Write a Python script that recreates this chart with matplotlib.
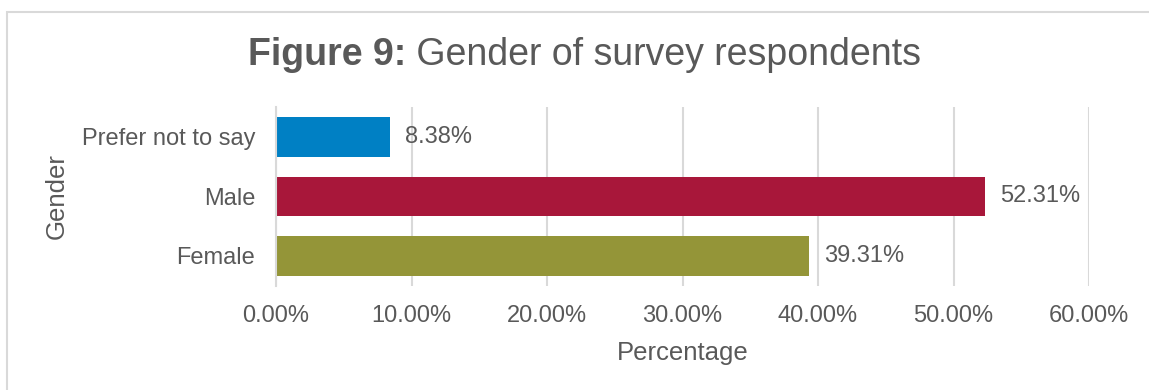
import matplotlib
matplotlib.use("Agg")
import matplotlib.pyplot as plt
from matplotlib.patches import Rectangle
from matplotlib.ticker import FuncFormatter, MultipleLocator

plt.rcParams["font.family"] = ["Liberation Sans", "DejaVu Sans"]

categories = ["Female", "Male", "Prefer not to say"]
values = [39.31, 52.31, 8.38]
bar_colors = ["#949538", "#A8173A", "#0080C4"]

TEXT = "#595959"
GRID = "#D9D9D9"

fig = plt.figure(figsize=(11.49, 3.90), dpi=100)
fig.patch.set_facecolor("white")

# outer frame of the chart area
fig.add_artist(Rectangle((7 / 1149, -0.1), 1.2, 1 - 11.5 / 390 + 0.1,
                         transform=fig.transFigure, fill=False,
                         edgecolor=GRID, linewidth=1.5))

ax = fig.add_axes([276 / 1149, 1 - 285.75 / 390, (1089 - 276) / 1149, (285.75 - 107.25) / 390])

y = list(range(len(categories)))
bars = ax.barh(y, values, height=0.67, color=bar_colors, zorder=3)

ax.set_xlim(0, 60)
ax.set_ylim(-0.5, len(categories) - 0.5)
ax.xaxis.set_major_locator(MultipleLocator(10))
ax.xaxis.set_major_formatter(FuncFormatter(lambda v, p: f"{v:.2f}%"))
ax.set_yticks(y)
ax.set_yticklabels(categories)

ax.grid(axis="x", color=GRID, linewidth=1.5, zorder=0)
ax.grid(axis="y", visible=False)
for side in ["top", "right", "bottom"]:
    ax.spines[side].set_visible(False)
ax.spines["left"].set_color(GRID)
ax.spines["left"].set_linewidth(1.5)
ax.spines["left"].set_zorder(4)

ax.tick_params(axis="x", length=0, pad=14, labelsize=17, labelcolor=TEXT)
ax.tick_params(axis="y", length=0, pad=15, labelsize=17, labelcolor=TEXT)

for b, v in zip(bars, values):
    ax.annotate(f"{v:.2f}%", xy=(v, b.get_y() + b.get_height() / 2),
                xytext=(11, 0), textcoords="offset points",
                va="center", ha="left", fontsize=17, color=TEXT)

fig.text(0.5 * (616 + 749) / 1149, 1 - 353 / 390, "Percentage",
         ha="center", va="center", fontsize=18.5, color=TEXT)
fig.text(57 / 1149, 1 - 196 / 390, "Gender", rotation=90,
         ha="center", va="center", fontsize=18.5, color=TEXT)

# title: bold figure number followed by regular caption
t1 = fig.text(248 / 1149, 1 - 55 / 390, "Figure 9:", fontsize=27,
              fontweight="bold", color=TEXT, ha="left", va="center")
ax.annotate(" Gender of survey respondents", xy=(1, 0), xycoords=t1,
            va="bottom", ha="left", fontsize=27, color=TEXT,
            annotation_clip=False)

fig.savefig("out.png", dpi=100, facecolor="white")
